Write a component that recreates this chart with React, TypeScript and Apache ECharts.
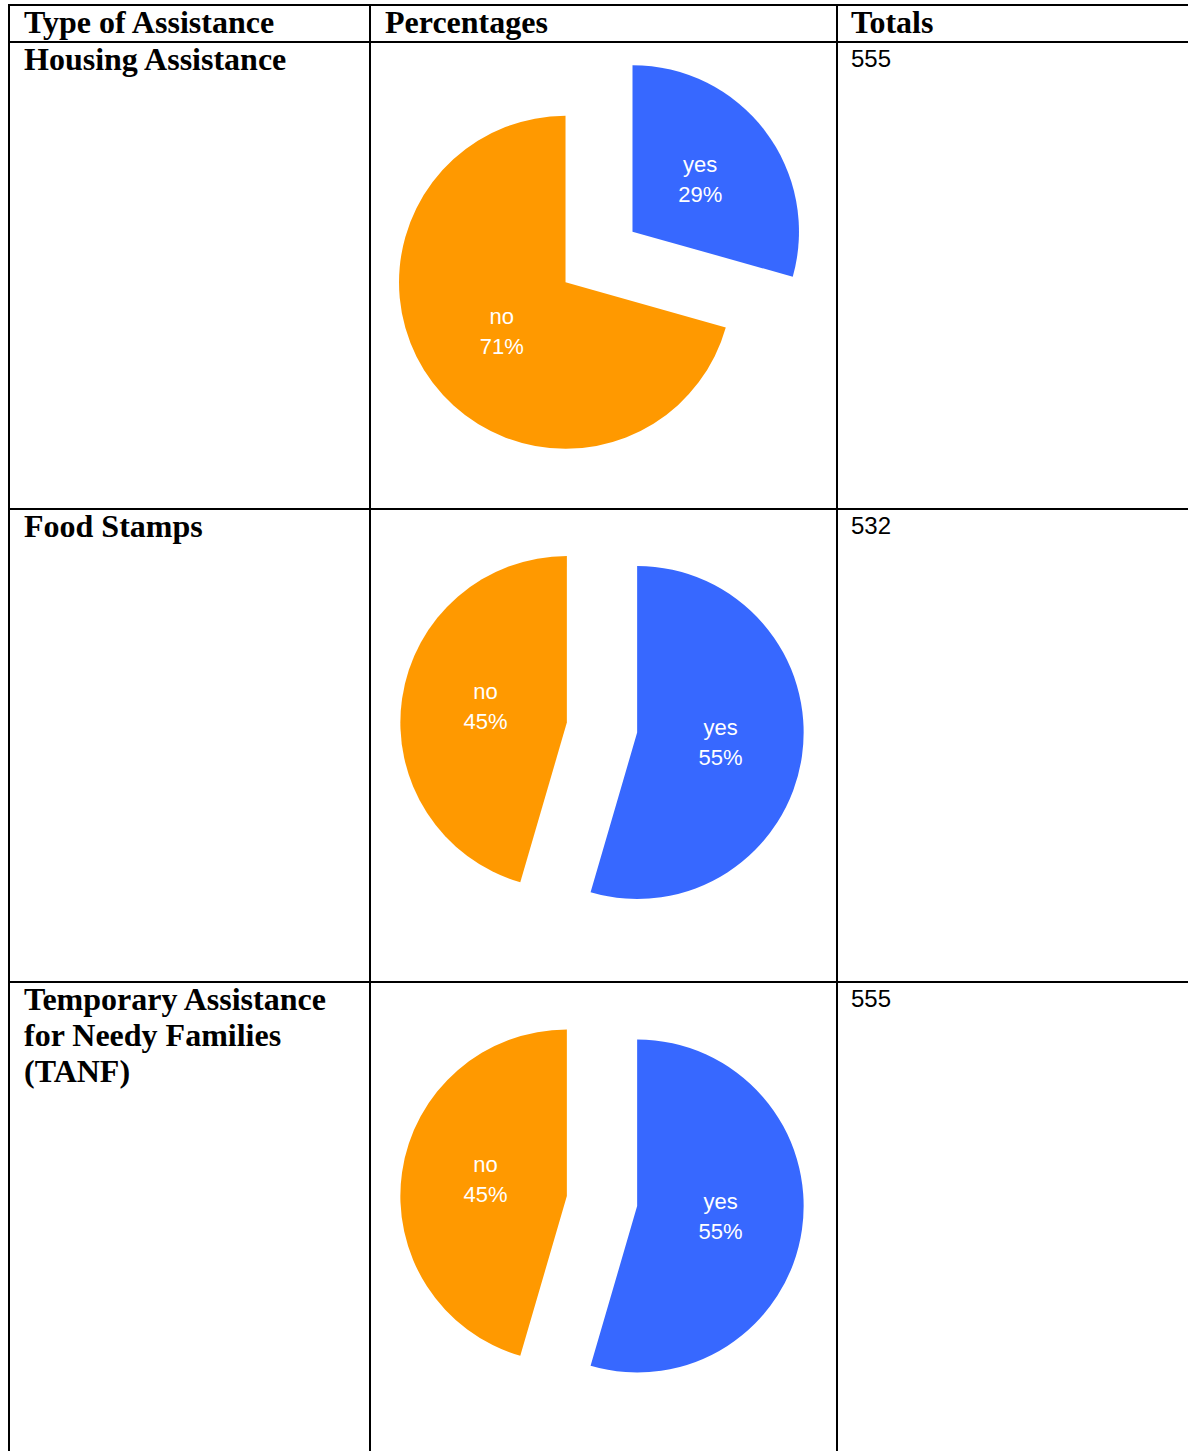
import React, { useEffect, useRef } from "react";
import * as echarts from "echarts";

// ---- data ----
const headers = ["Type of Assistance", "Percentages", "Totals"];
const rowTitles = [
  ["Housing Assistance"],
  ["Food Stamps"],
  ["Temporary Assistance", "for Needy Families", "(TANF)"],
];
const totals = [555, 532, 555];
const sliceNames = ["yes", "no"];
// counts (yes ≈ 29.4%, ≈ 54.5%)
const housingValues = [163, 392];
const foodStampValues = [290, 242];
const tanfValues = [290, 242];

const BLUE = "#3768ff";
const ORANGE = "#ff9900";

const W = 1188;
const H = 1451;

export default function App() {
  const ref = useRef<HTMLDivElement>(null);

  useEffect(() => {
    if (!ref.current) return;
    const chart = echarts.init(ref.current, undefined, { renderer: "svg" });

    const rowLines = [42, 509, 982];
    const colX = [9, 370, 837];
    const serif = "Liberation Serif, Times New Roman, serif";
    const sans = "Liberation Sans, Arial, sans-serif";

    const graphics: any[] = [];
    const hline = (y: number) =>
      graphics.push({
        type: "line",
        shape: { x1: 8, y1: y, x2: W, y2: y },
        style: { stroke: "#000", lineWidth: 2 },
        silent: true,
      });
    const vline = (x: number) =>
      graphics.push({
        type: "line",
        shape: { x1: x, y1: 4, x2: x, y2: H },
        style: { stroke: "#000", lineWidth: 2 },
        silent: true,
      });
    const text = (x: number, baseline: number, s: string, fam: string, size: number, bold: boolean) =>
      graphics.push({
        type: "text",
        silent: true,
        style: {
          x,
          y: baseline - (fam === serif ? 0.3375 : 0.3465) * size,
          text: s,
          fontFamily: fam,
          fontSize: size,
          fontWeight: bold ? "bold" : "normal",
          fill: "#000",
          textAlign: "left",
          textVerticalAlign: "middle",
        },
      });

    hline(5);
    rowLines.forEach(hline);
    colX.forEach(vline);

    const textX = [24, 385, 851];
    headers.forEach((h, i) => text(textX[i], 33, h, serif, 32, true));
    rowTitles.forEach((lines, r) => {
      lines.forEach((ln, k) => text(24, rowLines[r] + 27.5 + k * 36, ln, serif, 32, true));
    });
    totals.forEach((t, r) => text(851, rowLines[r] + 25, String(t), sans, 24, false));

    const centers = [
      [599, 257],
      [602, 727.5],
      [602, 1201],
    ];
    const offsets = [42, 35.5, 35.5];
    // per-slice horizontal label nudges via padding [top, right, bottom, left], [yes, no]
    const labelPads = [
      [[0, 2, 0, 0], [0, 0, 0, 10]],
      [[0, 4, 0, 0], [0, 0, 0, 8]],
      [[0, 4, 0, 0], [0, 0, 0, 8]],
    ];
    // per-slice vertical nudge: height of an extra spacer line (text moves up by half)
    const gapHeights = [
      [0, 6],
      [4, 8],
      [4, 8],
    ];
    const valueSets = [housingValues, foodStampValues, tanfValues];

    const series = valueSets.map((vals, i) => ({
      type: "pie",
      center: centers[i],
      radius: [0, 166.5],
      startAngle: 90,
      clockwise: true,
      percentPrecision: 0,
      selectedMode: "multiple",
      selectedOffset: offsets[i],
      avoidLabelOverlap: false,
      emphasis: { disabled: true },
      data: vals.map((v, k) => {
        const g = gapHeights[i][k];
        return {
          name: sliceNames[k],
          value: v,
          selected: true,
          itemStyle: { color: k === 0 ? BLUE : ORANGE, borderWidth: 0 },
          label: {
            padding: labelPads[i][k],
            formatter: g > 0 ? "{t|{b}}\n{t|{d}%}\n{gap| }" : "{t|{b}}\n{t|{d}%}",
            rich: {
              t: { color: "#fff", fontFamily: sans, fontSize: 22, lineHeight: 30 },
              gap: { fontSize: 1, lineHeight: g, color: "rgba(0,0,0,0)" },
            },
          },
        };
      }),
      label: {
        show: true,
        position: "inside",
        color: "#fff",
        fontFamily: sans,
        fontSize: 22,
        lineHeight: 30,
        textBorderWidth: 0,
      },
      labelLine: { show: false },
    }));

    chart.setOption({
      animation: false,
      backgroundColor: "#fff",
      graphic: graphics,
      series,
    });

    return () => chart.dispose();
  }, []);

  return (
    <div
      ref={ref}
      style={{ position: "absolute", left: 0, top: 0, width: W, height: H }}
    />
  );
}
